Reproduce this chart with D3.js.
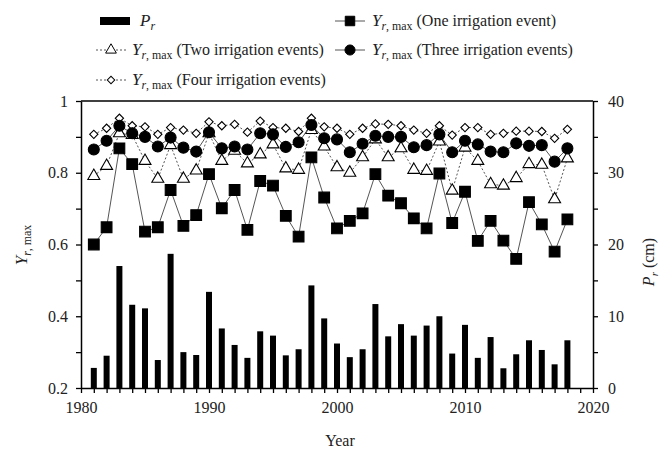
<!DOCTYPE html>
<html>
<head>
<meta charset="utf-8">
<script src="https://cdn.jsdelivr.net/npm/d3@7"></script>
<style>
  html, body { margin: 0; padding: 0; background: #fff; }
  svg, svg text { font-family: "Liberation Serif", "Times New Roman", serif !important; }
</style>
</head>
<body>
<svg id="chart" width="664" height="449"></svg>
<script>
// Years of record
const years = [1981,1982,1983,1984,1985,1986,1987,1988,1989,1990,
  1991,1992,1993,1994,1995,1996,1997,1998,1999,2000,
  2001,2002,2003,2004,2005,2006,2007,2008,2009,2010,
  2011,2012,2013,2014,2015,2016,2017,2018];

// Seasonal rainfall P_r (cm)
const rainfall = [2.8,4.5,17.0,11.6,11.1,3.9,18.7,5.0,4.6,13.4,
  8.3,6.0,4.2,7.9,7.3,4.55,5.4,14.3,9.7,6.2,
  4.3,5.4,11.7,7.2,8.9,7.3,8.7,10.0,4.8,8.8,
  4.2,7.1,2.75,4.7,6.65,5.3,3.3,6.65];

// Y_r,max for one irrigation event
const oneEvent = [0.600,0.648,0.868,0.824,0.636,0.648,0.752,0.652,0.682,0.796,
  0.701,0.752,0.641,0.777,0.764,0.680,0.622,0.843,0.731,0.645,
  0.666,0.687,0.796,0.736,0.715,0.673,0.645,0.798,0.660,0.747,
  0.610,0.666,0.611,0.560,0.718,0.656,0.580,0.670];

// Y_r,max for two irrigation events
const twoEvents = [0.791,0.819,0.910,0.905,0.833,0.783,0.877,0.783,0.806,0.910,
  0.833,0.861,0.826,0.851,0.879,0.812,0.808,0.919,0.873,0.815,
  0.800,0.843,0.893,0.843,0.868,0.808,0.805,0.887,0.750,0.870,
  0.833,0.768,0.764,0.785,0.824,0.822,0.726,0.840];

// Y_r,max for three irrigation events
const threeEvents = [0.865,0.889,0.931,0.910,0.900,0.873,0.898,0.870,0.859,0.913,
  0.868,0.873,0.865,0.910,0.907,0.872,0.885,0.933,0.896,0.893,
  0.857,0.881,0.903,0.900,0.900,0.871,0.877,0.907,0.857,0.889,
  0.879,0.859,0.857,0.882,0.875,0.877,0.831,0.868];

// Y_r,max for four irrigation events
const fourEvents = [0.907,0.924,0.952,0.931,0.928,0.907,0.926,0.919,0.910,0.942,
  0.931,0.935,0.913,0.944,0.926,0.924,0.915,0.952,0.928,0.924,
  0.907,0.924,0.936,0.935,0.931,0.919,0.910,0.931,0.905,0.926,
  0.926,0.907,0.910,0.916,0.916,0.915,0.896,0.921];

const xTicks = [1980, 1990, 2000, 2010, 2020];
const yTicks = [0.2, 0.4, 0.6, 0.8, 1];
const rTicks = [0, 10, 20, 30, 40];

(function () {
const FONT = "'Liberation Serif', 'Times New Roman', serif";
const INK = "#222";
const svg = d3.select("#chart").style("font-family", FONT);
const pLeft = 81, pRight = 593, pTop = 101, pBottom = 388;

const x = d3.scaleLinear().domain([1980, 2020]).range([pLeft, pRight]);
const y = d3.scaleLinear().domain([0.2, 1]).range([pBottom, pTop]);
const yr = d3.scaleLinear().domain([0, 40]).range([pBottom, pTop]);

// Rainfall bars
svg.append("g").selectAll("rect")
  .data(years.map((yy, i) => ({ year: yy, v: rainfall[i] })))
  .join("rect")
  .attr("x", d => x(d.year) - 3)
  .attr("width", 6)
  .attr("y", d => yr(d.v))
  .attr("height", d => yr(0) - yr(d.v))
  .attr("fill", "#000");

// Frame and axes
const axisG = svg.append("g");
axisG.append("line").attr("x1", pLeft).attr("x2", pRight).attr("y1", pTop).attr("y2", pTop)
  .attr("stroke", "#000").attr("stroke-width", 1.5);

const xAxis = d3.axisBottom(x).tickValues(d3.range(1980, 2021, 1))
  .tickSize(5).tickSizeOuter(0).tickPadding(9)
  .tickFormat(d => xTicks.includes(d) ? d : "");
axisG.append("g").attr("transform", `translate(0,${pBottom})`).call(xAxis);

const yVals = d3.range(2, 11).map(v => v / 10);
const yAxis = d3.axisLeft(y).tickValues(yVals)
  .tickSize(5).tickSizeOuter(0).tickPadding(8)
  .tickFormat(d => yTicks.some(t => Math.abs(t - d) < 1e-6) ? String(d) : "");
axisG.append("g").attr("transform", `translate(${pLeft},0)`).call(yAxis);

const rAxis = d3.axisRight(yr).tickValues(d3.range(0, 41, 5))
  .tickSize(5).tickSizeOuter(0).tickPadding(10)
  .tickFormat(d => rTicks.includes(d) ? d : "");
axisG.append("g").attr("transform", `translate(${pRight},0)`).call(rAxis);

axisG.selectAll("g").attr("font-family", null).style("font-family", FONT);
axisG.selectAll(".domain").attr("stroke", "#000").attr("stroke-width", 1.5);
axisG.selectAll(".tick line").attr("stroke", "#000").attr("stroke-width", 1.3);
axisG.selectAll(".tick text").style("font-family", FONT)
  .attr("font-size", 16).attr("fill", INK);

// Axis titles
svg.append("text").attr("x", 340).attr("y", 446).attr("text-anchor", "middle")
  .attr("font-size", 16).attr("fill", INK).text("Year");

function yLabel(sel, size) {
  sel.append("tspan").attr("font-style", "italic").attr("font-size", size).text("Y");
  sel.append("tspan").attr("font-style", "italic").attr("font-size", size * 0.7)
    .attr("dy", size * 0.25).text("r");
  sel.append("tspan").attr("font-size", size * 0.7).text(", max");
}

const yt = svg.append("text").attr("text-anchor", "middle").attr("fill", INK)
  .attr("transform", "translate(27,245) rotate(-90)");
yLabel(yt, 17);

const rt = svg.append("text").attr("text-anchor", "middle").attr("fill", INK)
  .attr("transform", "translate(654,262) rotate(-90)");
rt.append("tspan").attr("font-style", "italic").attr("font-size", 16).text("P");
rt.append("tspan").attr("font-style", "italic").attr("font-size", 11).attr("dy", 4).text("r");
rt.append("tspan").attr("font-size", 16).attr("dy", -4).text(" (cm)");

// Series definitions (diamonds are rotated squares)
const series = [
  { key: "four", values: fourEvents, dash: "2,2", symbol: d3.symbolSquare, size: 34, rot: 45, fill: "#fff" },
  { key: "two", values: twoEvents, dash: "2,2", symbol: d3.symbolTriangle, size: 62, rot: 0, fill: "#fff" },
  { key: "one", values: oneEvent, dash: null, symbol: d3.symbolSquare, size: 115, rot: 0, fill: "#000" },
  { key: "three", values: threeEvents, dash: null, symbol: d3.symbolCircle, size: 95, rot: 0, fill: "#000" }
];

const line = d3.line().x(d => x(d.year)).y(d => y(d.v));

series.forEach(s => {
  const pts = years.map((yy, i) => ({ year: yy, v: s.values[i] }));
  const g = svg.append("g");
  g.append("path").datum(pts).attr("d", line).attr("fill", "none")
    .attr("stroke", "#555").attr("stroke-width", 1)
    .attr("stroke-dasharray", s.dash);
  g.selectAll("path.m").data(pts).join("path").attr("class", "m")
    .attr("d", d3.symbol().type(s.symbol).size(s.size))
    .attr("transform", d => `translate(${x(d.year)},${y(d.v)}) rotate(${s.rot})`)
    .attr("fill", s.fill).attr("stroke", "#000").attr("stroke-width", 1.1);
});

// Legend
const legend = svg.append("g");
function legendText(xp, yp, suffix) {
  const t = legend.append("text").attr("x", xp).attr("y", yp).attr("fill", INK);
  yLabel(t, 17);
  t.append("tspan").attr("font-size", 16).attr("dy", -17 * 0.25).text(" " + suffix);
}
// Rainfall swatch
legend.append("rect").attr("x", 100).attr("y", 17).attr("width", 30).attr("height", 8).attr("fill", "#000");
const pl = legend.append("text").attr("x", 140).attr("y", 26).attr("fill", INK);
pl.append("tspan").attr("font-style", "italic").attr("font-size", 17).text("P");
pl.append("tspan").attr("font-style", "italic").attr("font-size", 12).attr("dy", 4).text("r");

function legendSwatch(x0, yc, s, legSize) {
  legend.append("line").attr("x1", x0).attr("x2", x0 + 30).attr("y1", yc).attr("y2", yc)
    .attr("stroke", "#555").attr("stroke-width", 1).attr("stroke-dasharray", s.dash);
  legend.append("path").attr("d", d3.symbol().type(s.symbol).size(legSize))
    .attr("transform", `translate(${x0 + 15},${yc}) rotate(${s.rot})`)
    .attr("fill", s.fill).attr("stroke", "#000").attr("stroke-width", 1);
}
legendSwatch(335, 21, series[2], 90);
legendText(372, 26, "(One irrigation event)");
legendSwatch(96, 50, series[1], 50);
legendText(132, 55, "(Two irrigation  events)");
legendSwatch(335, 50, series[3], 80);
legendText(372, 55, "(Three irrigation  events)");
legendSwatch(96, 80, series[0], 28);
legendText(132, 85, "(Four irrigation events)");
})();
</script>
</body>
</html>
